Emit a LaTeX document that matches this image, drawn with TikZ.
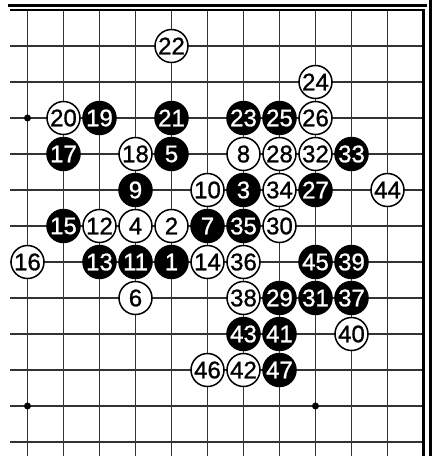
\documentclass[tikz,border=0pt]{standalone}
\usepackage{fontspec}
\setmainfont{Liberation Sans}
\newfontfamily\stonefont{Liberation Sans}[FakeBold=1]
\begin{document}
\begin{tikzpicture}[x=1pt,y=-1pt,
  gridline/.style={draw=black!80,line width=1.3pt},
  edgeline/.style={draw=black,line width=2.6pt},
  outerline/.style={draw=black,line width=3pt},
  stonebase/.style={circle,minimum size=33pt,inner sep=0pt,line width=1.5pt,font={\fontsize{24}{24}\stonefont}},
  w/.style={stonebase,draw=black,fill=white,text=black},
  b/.style={stonebase,draw=black,fill=black,text=white},
  hoshi/.style={circle,fill=black,inner sep=0pt,minimum size=7pt}]
\useasboundingbox (0,0) rectangle (433,456);
\fill[white] (0,0) rectangle (433,456);
\foreach \c in {0,...,10} \draw[gridline] (27.5+36*\c,10) -- (27.5+36*\c,456);
\foreach \r in {1,...,12} \draw[gridline] (10,10+36*\r) -- (423.5,10+36*\r);
\draw[edgeline] (10,10) -- (423.5,10) -- (423.5,456);
\draw[outerline] (8,5.8) -- (426.7,5.8);
\draw[outerline] (430.7,0) -- (430.7,456);
\node[hoshi] (h1) at (27.5,118) {};
\node[hoshi] (h2) at (27.5,406) {};
\node[hoshi] (h3) at (315.5,406) {};
\foreach \n/\c/\r/\k in {1/4/7/b, 2/4/6/w, 3/6/5/b, 4/3/6/w, 5/4/4/b, 6/3/8/w, 7/5/6/b, 8/6/4/w, 9/3/5/b, 10/5/5/w, 11/3/7/b, 12/2/6/w, 13/2/7/b, 14/5/7/w, 15/1/6/b, 16/0/7/w, 17/1/4/b, 18/3/4/w, 19/2/3/b, 20/1/3/w, 21/4/3/b, 22/4/1/w, 23/6/3/b, 24/8/2/w, 25/7/3/b, 26/8/3/w, 27/8/5/b, 28/7/4/w, 29/7/8/b, 30/7/6/w, 31/8/8/b, 32/8/4/w, 33/9/4/b, 34/7/5/w, 35/6/6/b, 36/6/7/w, 37/9/8/b, 38/6/8/w, 39/9/7/b, 40/9/9/w, 41/7/9/b, 42/6/10/w, 43/6/9/b, 44/10/5/w, 45/8/7/b, 46/5/10/w, 47/7/10/b}
  \node[\k] (s\n) at (27.5+36*\c,10+36*\r) {\n};
\end{tikzpicture}
\end{document}
